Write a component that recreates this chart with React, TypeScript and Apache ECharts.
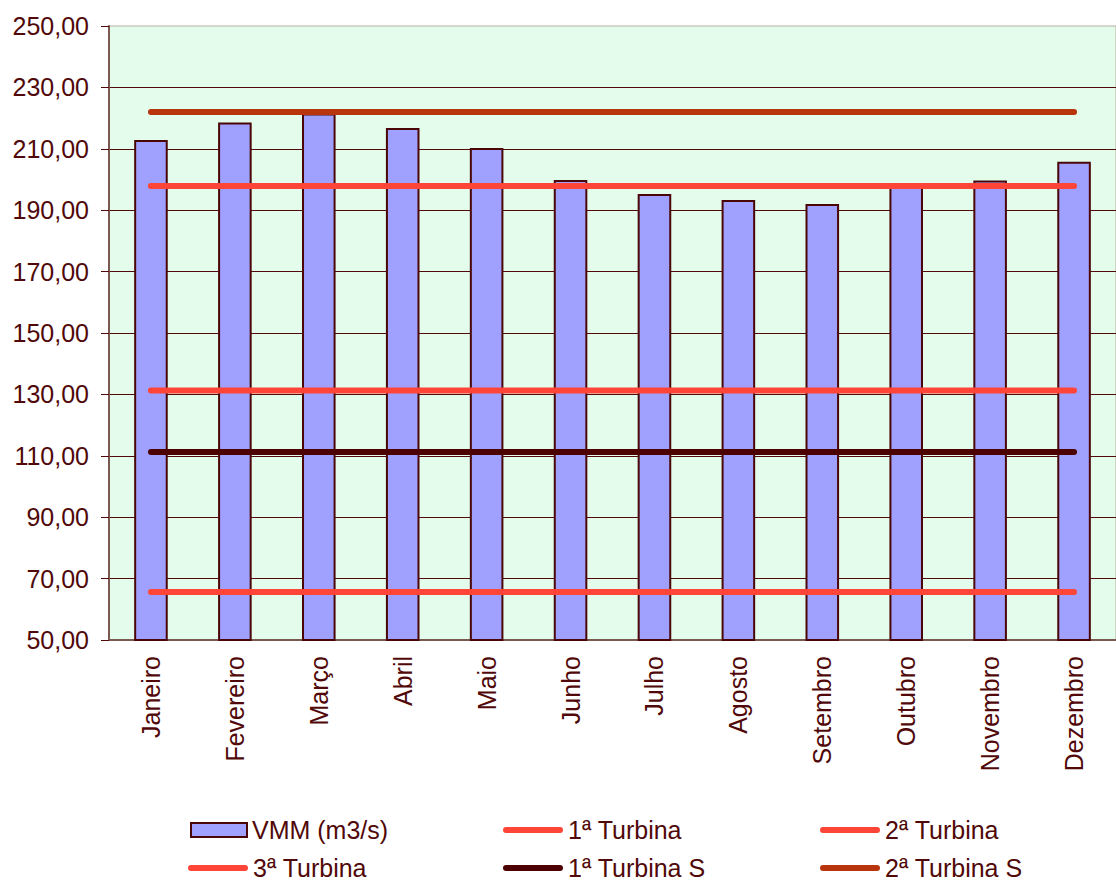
import React, { useEffect, useRef } from "react";
import * as echarts from "echarts";

const months = ["Janeiro", "Fevereiro", "Março", "Abril", "Maio", "Junho", "Julho", "Agosto", "Setembro", "Outubro", "Novembro", "Dezembro"];
const vmm = [212.9, 218.6, 221.5, 216.8, 210.3, 199.8, 195.3, 193.3, 192.0, 197.6, 199.7, 205.8];
const turbina1 = [65.6, 65.6, 65.6, 65.6, 65.6, 65.6, 65.6, 65.6, 65.6, 65.6, 65.6, 65.6];
const turbina2 = [131.3, 131.3, 131.3, 131.3, 131.3, 131.3, 131.3, 131.3, 131.3, 131.3, 131.3, 131.3];
const turbina3 = [197.9, 197.9, 197.9, 197.9, 197.9, 197.9, 197.9, 197.9, 197.9, 197.9, 197.9, 197.9];
const turbinaS1 = [111.2, 111.2, 111.2, 111.2, 111.2, 111.2, 111.2, 111.2, 111.2, 111.2, 111.2, 111.2];
const turbinaS2 = [222.0, 222.0, 222.0, 222.0, 222.0, 222.0, 222.0, 222.0, 222.0, 222.0, 222.0, 222.0];
const seriesNames = ["VMM (m3/s)", "1ª Turbina", "2ª Turbina", "3ª Turbina", "1ª Turbina S", "2ª Turbina S"];

const FONT = "'Liberation Sans', Arial, sans-serif";
const TEXT = "#500808";
const RED = "#ff4538";
const LINE_ICON = "path://M3,0 L57,0 A3,3 0 0 1 57,6 L3,6 A3,3 0 0 1 3,0 Z";

export default function App() {
  const ref = useRef<HTMLDivElement>(null);
  useEffect(() => {
    if (!ref.current) return;
    const chart = echarts.init(ref.current, null, { renderer: "svg" });
    const legendBase = {
      orient: "horizontal" as const,
      padding: 0,
      textStyle: { fontSize: 25, color: TEXT, fontFamily: FONT, lineHeight: 30 },
    };
    const lineLegend = (name: string, left: number, top: number) => ({
      ...legendBase,
      data: [{ name, icon: LINE_ICON }],
      left,
      top,
      itemWidth: 60,
      itemHeight: 6,
      itemStyle: { borderWidth: 0 },
    });
    const lineSeries = (name: string, data: number[], color: string) => ({
      name,
      type: "line",
      data,
      symbol: "none",
      z: 5,
      lineStyle: { color, width: 6, cap: "round" },
      itemStyle: { color },
    });
    chart.setOption({
      animation: false,
      grid: {
        left: 109,
        top: 26,
        right: 0,
        bottom: 242,
        show: true,
        backgroundColor: "#e3fcec",
        borderColor: "#b8b0a0",
        borderWidth: 1,
      },
      legend: [
        { ...legendBase, data: [{ name: seriesNames[0], icon: "rect" }], left: 190, top: 815, itemWidth: 56, itemHeight: 14 },
        lineLegend(seriesNames[3], 188, 853),
        lineLegend(seriesNames[1], 503, 815),
        lineLegend(seriesNames[4], 503, 853),
        lineLegend(seriesNames[2], 820, 815),
        lineLegend(seriesNames[5], 820, 853),
      ],
      xAxis: {
        type: "category",
        data: months,
        boundaryGap: true,
        axisLine: { lineStyle: { color: "#7a5a50", width: 2 } },
        axisTick: { length: 8, lineStyle: { color: "#7a5a50", width: 1 } },
        axisLabel: { rotate: 90, margin: 16, fontSize: 25, color: TEXT, fontFamily: FONT, interval: 0 },
        splitLine: { show: false },
      },
      yAxis: {
        type: "value",
        min: 50,
        max: 250,
        interval: 20,
        axisLine: { show: true, lineStyle: { color: "#7a5a50", width: 2 } },
        axisTick: { show: true, length: 8, lineStyle: { color: "#500808", width: 1 } },
        axisLabel: {
          margin: 20,
          fontSize: 25,
          color: TEXT,
          fontFamily: FONT,
          formatter: (v: number) => v.toFixed(2).replace(".", ","),
        },
        splitLine: { show: true, showMaxLine: false, lineStyle: { color: "#500808", width: 1 } },
      },
      series: [
        {
          name: seriesNames[0],
          type: "bar",
          data: vmm,
          barWidth: "40%",
          z: 2,
          itemStyle: { color: "#a0a0ff", borderColor: "#4a0606", borderWidth: 2 },
        },
        lineSeries(seriesNames[1], turbina1, RED),
        lineSeries(seriesNames[2], turbina2, RED),
        lineSeries(seriesNames[3], turbina3, RED),
        lineSeries(seriesNames[4], turbinaS1, "#4d0202"),
        lineSeries(seriesNames[5], turbinaS2, "#b8340c"),
      ],
    });
    return () => chart.dispose();
  }, []);
  return (
    <div
      ref={ref}
      style={{ position: "fixed", left: 0, top: 0, width: 1116, height: 882, background: "#ffffff" }}
    />
  );
}
